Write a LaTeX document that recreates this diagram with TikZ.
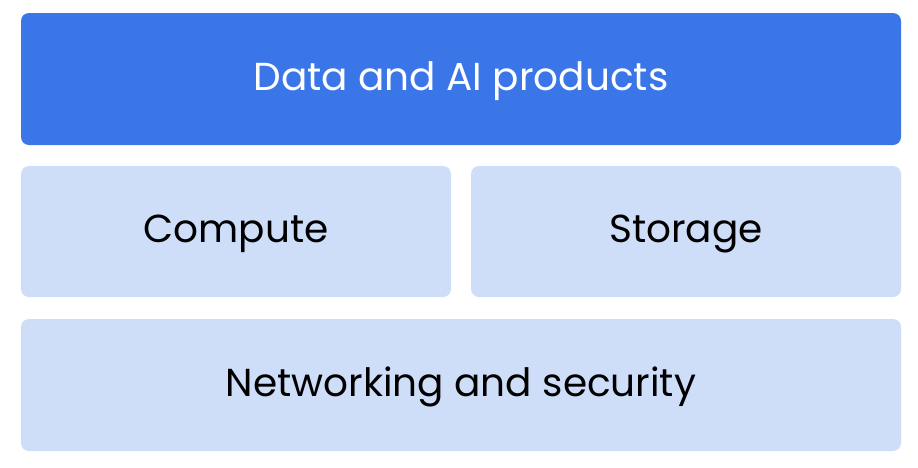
\documentclass[tikz,border=0pt]{standalone}
\usepackage{fontspec}
\setmainfont{Poppins}
\definecolor{topblue}{HTML}{3B76E9}
\definecolor{paleblue}{HTML}{CEDEF8}
\tikzset{
    layer/.style={rounded corners=8pt, inner sep=0pt, text height=27pt, text depth=5pt,
        font=\fontsize{39}{44}\selectfont},
    product/.style={layer, fill=topblue, text=white},
    base/.style={layer, fill=paleblue, text=black},
}

\begin{document}
\begin{tikzpicture}[x=1pt, y=-1pt]

    \useasboundingbox (0,0) rectangle (918,467);

    \node[product, minimum width=880pt, minimum height=132pt] (products) at (461,79) {Data and AI products};
    \node[base, minimum width=430pt, minimum height=131pt] (compute) at (236,231.5) {Compute};
    \node[base, minimum width=430pt, minimum height=131pt] (storage) at (686,231.5) {Storage};
    \node[base, minimum width=880pt, minimum height=132pt] (network) at (461,385) {Networking and security};

\end{tikzpicture}
\end{document}
